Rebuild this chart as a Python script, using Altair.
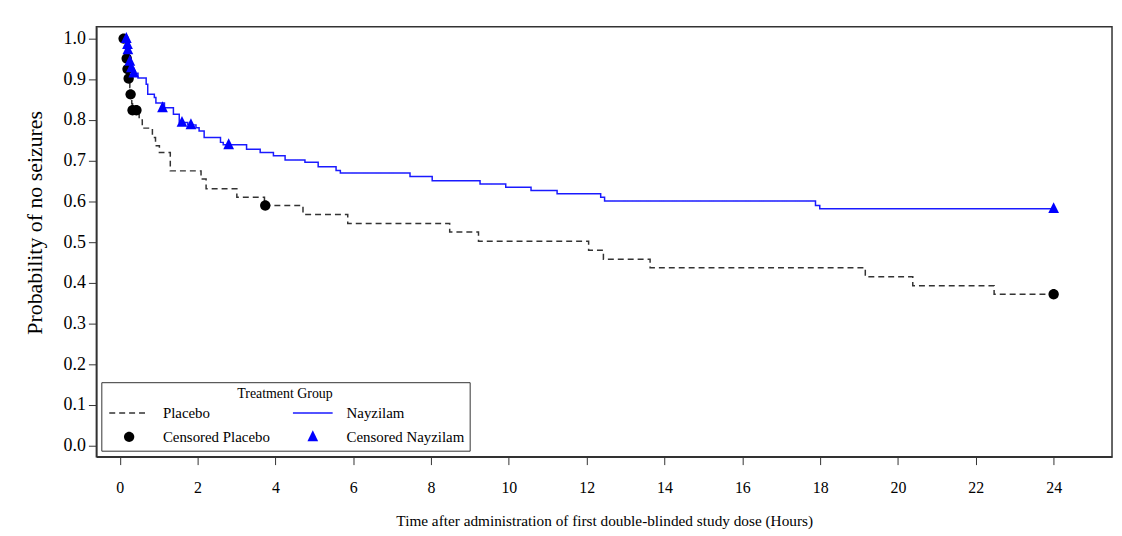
import altair as alt
import pandas as pd

# ---- data ----
placebo_time = [0.10, 0.15, 0.18, 0.20, 0.23, 0.26, 0.28, 0.31, 0.33, 0.50, 0.58, 0.84, 0.92, 1.02,
                1.30, 2.09, 2.22, 3.01, 3.72, 4.71, 5.86, 8.48, 9.22, 12.05, 12.43, 13.63, 19.16,
                20.38, 22.47, 24.0]
placebo_surv = [1.0, 0.975, 0.951, 0.925, 0.902, 0.88, 0.863, 0.84, 0.824, 0.80, 0.78, 0.757, 0.737,
                0.72, 0.675, 0.655, 0.631, 0.61, 0.59, 0.568, 0.546, 0.525, 0.502, 0.48, 0.458, 0.437,
                0.415, 0.393, 0.372, 0.372]
placebo_cens_time = [0.10, 0.18, 0.20, 0.23, 0.28, 0.33, 0.43, 3.74, 24.0]
placebo_cens_surv = [1.0, 0.951, 0.925, 0.902, 0.863, 0.824, 0.824, 0.59, 0.372]

nay_time = [0.17, 0.19, 0.21, 0.24, 0.26, 0.30, 0.35, 0.47, 0.68, 0.72,
            0.89, 0.93, 1.15, 1.38, 1.53, 1.75, 1.96, 2.04, 2.17, 2.59,
            2.66, 3.26, 3.61, 3.95, 4.25, 4.76, 5.10, 5.56, 5.67, 7.46,
            8.03, 9.26, 9.92, 10.57, 11.24, 12.36, 12.46, 17.88, 17.99, 24.0]
nay_surv = [1.0, 0.985, 0.972, 0.958, 0.944, 0.928, 0.915, 0.903, 0.888, 0.863,
            0.855, 0.842, 0.83, 0.814, 0.794, 0.788, 0.781, 0.773, 0.757, 0.745,
            0.739, 0.728, 0.72, 0.712, 0.702, 0.696, 0.685, 0.676, 0.67, 0.661,
            0.651, 0.643, 0.635, 0.627, 0.619, 0.61, 0.601, 0.59, 0.582, 0.582]
nay_cens_time = [0.17, 0.20, 0.21, 0.26, 0.30, 0.36, 1.10, 1.60, 1.83, 2.80, 24.0]
nay_cens_surv = [1.0, 0.985, 0.972, 0.944, 0.928, 0.915, 0.83, 0.794, 0.788, 0.739, 0.582]

x_ticks = [0, 2, 4, 6, 8, 10, 12, 14, 16, 18, 20, 22, 24]
y_ticks = [0.0, 0.1, 0.2, 0.3, 0.4, 0.5, 0.6, 0.7, 0.8, 0.9, 1.0]
# legend order (filled column by column)
labels = ["Placebo", "Censored Placebo", "Nayzilam", "Censored Nayzilam"]

lines_df = pd.concat([
    pd.DataFrame({"time": placebo_time, "surv": placebo_surv, "label": "Placebo"}),
    pd.DataFrame({"time": nay_time, "surv": nay_surv, "label": "Nayzilam"}),
], ignore_index=True)
pts_df = pd.concat([
    pd.DataFrame({"time": placebo_cens_time, "surv": placebo_cens_surv, "label": "Censored Placebo"}),
    pd.DataFrame({"time": nay_cens_time, "surv": nay_cens_surv, "label": "Censored Nayzilam"}),
], ignore_index=True)

FONT = "Liberation Serif"
LINE_PATH = "M-2,0H2"
CIRCLE_PATH = "M-0.52,0A0.52,0.52,0,1,0,0.52,0A0.52,0.52,0,1,0,-0.52,0Z"
TRI_PATH = "M0,-0.66L0.54,0.44L-0.54,0.44Z"

stroke_range = ["#333333", "transparent", "#1a1aff", "transparent"]
dash_range = [[6, 4], [1, 0], [1, 0], [1, 0]]
fill_range = ["transparent", "#000000", "transparent", "#0000ff"]
shape_range = [LINE_PATH, CIRCLE_PATH, LINE_PATH, TRI_PATH]


def make_legend():
    return alt.Legend(
        title="Treatment Group", orient="none", legendX=5, legendY=358,
        columns=2, columnPadding=20, rowPadding=5,
        titleAnchor="middle", titleFont=FONT, titleFontSize=14, titleFontWeight="normal",
        titleColor="black", titlePadding=1,
        labelFont=FONT, labelFontSize=15, labelColor="black", labelOffset=23,
        symbolSize=400, symbolOffset=12, symbolStrokeWidth=1.5,
        symbolFillColor="transparent", symbolStrokeColor="transparent",
        padding=5, strokeColor="#333333", fillColor="white",
    )


x = alt.X("time:Q",
          scale=alt.Scale(domain=[-0.6, 25.5], nice=False, zero=False),
          axis=alt.Axis(values=x_ticks, title="Time after administration of first double-blinded study dose (Hours)",
                        grid=False, tickSize=8, labelPadding=15, titlePadding=18,
                        labelFontSize=16, titleFontSize=15.4, labelFlush=False))
y = alt.Y("surv:Q",
          scale=alt.Scale(domain=[-0.027, 1.029], nice=False, zero=False),
          axis=alt.Axis(values=y_ticks, format=".1f", title="Probability of no seizures",
                        grid=False, tickSize=8, labelPadding=3, titlePadding=17, titleY=197,
                        labelFontSize=18, titleFontSize=22, labelFlush=False))

lines = alt.Chart(lines_df).mark_line(interpolate="step-after", strokeWidth=1.5).encode(
    x=x, y=y,
    stroke=alt.Stroke("label:N", scale=alt.Scale(domain=labels, range=stroke_range), legend=make_legend()),
    strokeDash=alt.StrokeDash("label:N", scale=alt.Scale(domain=labels, range=dash_range), legend=make_legend()),
)

points = alt.Chart(pts_df).mark_point(filled=True, size=400, opacity=1).encode(
    x=x, y=y,
    fill=alt.Fill("label:N", scale=alt.Scale(domain=labels, range=fill_range), legend=make_legend()),
    shape=alt.Shape("label:N", scale=alt.Scale(domain=labels, range=shape_range), legend=make_legend()),
)

chart = alt.layer(lines, points).properties(
    width=1023, height=433,
    autosize=alt.AutoSizeParams(type="none"),
    padding={"left": 89, "top": 17, "right": 2, "bottom": 75},
).configure(font=FONT).configure_view(
    stroke="#333333", strokeWidth=1.5
).configure_axis(
    domainColor="#333333", domainWidth=1.5, tickColor="#333333", tickWidth=1,
    labelColor="black", titleColor="black", titleFontWeight="normal", labelFont=FONT, titleFont=FONT,
)

chart.save("out.html", embed_options={"renderer": "svg", "actions": False})
